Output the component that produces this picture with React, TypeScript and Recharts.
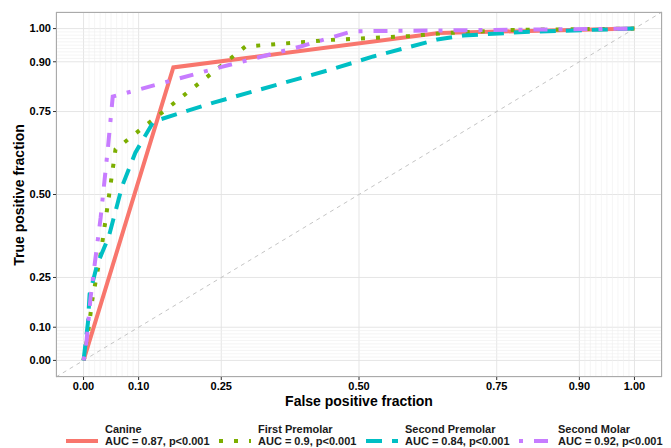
import React from 'react';
import { LineChart, Line, XAxis, YAxis, CartesianGrid, ReferenceLine } from 'recharts';

// ROC curves, one array per tooth type (x = false positive fraction, y = true positive fraction)
const canine = [
    { x: 0, y: 0 },
    { x: 0.163, y: 0.883 },
    { x: 0.645, y: 0.987 },
    { x: 1, y: 1 },
];

const firstPremolar = [
    { x: 0, y: 0 },
    { x: 0.009, y: 0.093 },
    { x: 0.016, y: 0.184 },
    { x: 0.031, y: 0.32 },
    { x: 0.044, y: 0.47 },
    { x: 0.058, y: 0.636 },
    { x: 0.294, y: 0.946 },
    { x: 0.45, y: 0.966 },
    { x: 0.59, y: 0.977 },
    { x: 0.65, y: 0.986 },
    { x: 0.78, y: 0.996 },
    { x: 1, y: 1 },
];

const secondPremolar = [
    { x: 0, y: 0 },
    { x: 0.008, y: 0.114 },
    { x: 0.011, y: 0.2 },
    { x: 0.025, y: 0.29 },
    { x: 0.046, y: 0.374 },
    { x: 0.07, y: 0.525 },
    { x: 0.094, y: 0.626 },
    { x: 0.127, y: 0.72 },
    { x: 0.236, y: 0.777 },
    { x: 0.448, y: 0.876 },
    { x: 0.526, y: 0.916 },
    { x: 0.642, y: 0.967 },
    { x: 0.69, y: 0.979 },
    { x: 0.8, y: 0.99 },
    { x: 1, y: 1 },
];

const secondMolar = [
    { x: 0, y: 0 },
    { x: 0.004, y: 0.033 },
    { x: 0.013, y: 0.193 },
    { x: 0.022, y: 0.313 },
    { x: 0.031, y: 0.43 },
    { x: 0.044, y: 0.636 },
    { x: 0.053, y: 0.795 },
    { x: 0.249, y: 0.884 },
    { x: 0.394, y: 0.946 },
    { x: 0.488, y: 0.992 },
    { x: 1, y: 1 },
];

const majorBreaks = [0, 0.1, 0.25, 0.5, 0.75, 0.9, 1];
const minorBreaks = [
    0.01, 0.02, 0.03, 0.04, 0.05, 0.06, 0.07, 0.08, 0.09,
    0.91, 0.92, 0.93, 0.94, 0.95, 0.96, 0.97, 0.98, 0.99,
];

const seriesNames = ['Canine', 'First Premolar', 'Second Premolar', 'Second Molar'];
const seriesAuc = ['AUC = 0.87, p<0.001', 'AUC = 0.9, p<0.001', 'AUC = 0.84, p<0.001', 'AUC = 0.92, p<0.001'];
const seriesData = [canine, firstPremolar, secondPremolar, secondMolar];
const colors = ['#F8766D', '#7CAE00', '#00BFC4', '#C77CFF'];
const dashes = [undefined, '4 11', '16 10', '4 11 14 11'];

const FONT = '"Liberation Sans", Arial, sans-serif';
const legendLeft = [65, 218, 365, 518];

function ChartLegend() {
    return (
        <div style={{ position: 'absolute', left: 0, top: 424, width: 671, height: 24, fontFamily: FONT }}>
            {seriesNames.map((name, i) => (
                <div key={name} style={{ position: 'absolute', left: legendLeft[i], top: 0, display: 'flex', alignItems: 'flex-end' }}>
                    <svg width={34} height={10} style={{ marginRight: 6, marginBottom: 1 }}>
                        <line x1={1} y1={5} x2={33} y2={5} stroke={colors[i]} strokeWidth={4} strokeDasharray={dashes[i]} />
                    </svg>
                    <div style={{ fontSize: 11, fontWeight: 700, color: '#1a1a1a', lineHeight: '11.5px' }}>
                        <div>{name}</div>
                        <div>{seriesAuc[i]}</div>
                    </div>
                </div>
            ))}
        </div>
    );
}

const tickStyle = { fill: '#000', fontSize: 11, fontWeight: 700, fontFamily: FONT };

export default function App() {
    return (
        <div style={{ position: 'absolute', left: 0, top: 0, width: 671, height: 448, background: '#fff' }}>
            <LineChart width={671} height={448} margin={{ top: 12, right: 9, left: 0, bottom: 31 }}>
                <CartesianGrid stroke="#e2e2e2" strokeWidth={0.9} />
                {minorBreaks.map((v) => (
                    <ReferenceLine key={'vx' + v} x={v} stroke="#eeeeee" strokeWidth={0.6} />
                ))}
                {minorBreaks.map((v) => (
                    <ReferenceLine key={'hy' + v} y={v} stroke="#eeeeee" strokeWidth={0.6} />
                ))}
                <XAxis
                    type="number"
                    dataKey="x"
                    domain={[-0.05, 1.05]}
                    allowDataOverflow
                    ticks={majorBreaks}
                    tickFormatter={(v: number) => v.toFixed(2)}
                    tick={tickStyle}
                    tickSize={3}
                    tickMargin={2}
                    height={40}
                    stroke="#333"
                    axisLine={false}
                    label={{
                        content: () => (
                            <text x={359} y={406} textAnchor="middle" fontFamily={FONT} fontSize={14} fontWeight={700} fill="#000">
                                False positive fraction
                            </text>
                        ),
                    }}
                />
                <YAxis
                    type="number"
                    dataKey="y"
                    domain={[-0.05, 1.05]}
                    allowDataOverflow
                    ticks={majorBreaks}
                    tickFormatter={(v: number) => v.toFixed(2)}
                    tick={tickStyle}
                    tickSize={3}
                    tickMargin={2}
                    width={56}
                    stroke="#333"
                    axisLine={false}
                    label={{
                        content: () => (
                            <text x={24} y={195} transform="rotate(-90 24 195)" textAnchor="middle" fontFamily={FONT} fontSize={14} fontWeight={700} fill="#000">
                                True positive fraction
                            </text>
                        ),
                    }}
                />
                <ReferenceLine
                    segment={[{ x: -0.05, y: -0.05 }, { x: 1.05, y: 1.05 }]}
                    stroke="#bdbdbd"
                    strokeWidth={0.9}
                    strokeDasharray="4 4"
                />
                {seriesData.map((d, i) => (
                    <Line
                        key={seriesNames[i]}
                        data={d}
                        dataKey="y"
                        type="linear"
                        stroke={colors[i]}
                        strokeWidth={4}
                        strokeDasharray={dashes[i]}
                        dot={false}
                        activeDot={false}
                        isAnimationActive={false}
                    />
                ))}
            </LineChart>
            <div style={{ position: 'absolute', left: 56, top: 12, width: 606, height: 365, border: '1px solid #aaa', boxSizing: 'border-box', pointerEvents: 'none' }} />
            <ChartLegend />
        </div>
    );
}
